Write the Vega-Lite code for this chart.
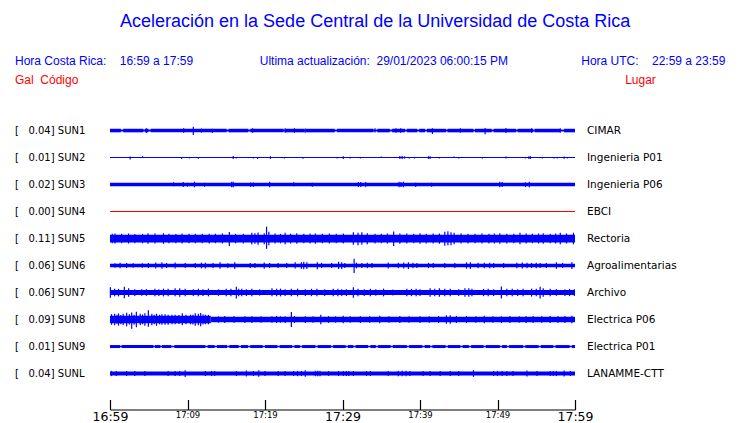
{
"$schema": "https://vega.github.io/schema/vega-lite/v6.json",
"background": "white",
"padding": {"left": 15, "right": 5, "top": 13, "bottom": 0},
"config": {"view": {"stroke": null}},
"title": {
  "text": "\u200b\u00a0\u00a0\u00a0\u00a0\u00a0\u00a0\u00a0\u00a0\u00a0\u00a0\u00a0\u00a0\u00a0\u00a0\u00a0\u00a0\u00a0\u00a0\u00a0\u00a0\u00a0Aceleración en la Sede Central de la Universidad de Costa Rica",
  "subtitle": "Hora Costa Rica:\u00a0\u00a0\u00a0\u00a016:59 a 17:59\u00a0\u00a0\u00a0\u00a0\u00a0\u00a0\u00a0\u00a0\u00a0\u00a0\u00a0\u00a0\u00a0\u00a0\u00a0\u00a0\u00a0\u00a0\u00a0\u00a0Ultima actualización:\u00a0\u00a029/01/2023 06:00:15 PM\u00a0\u00a0\u00a0\u00a0\u00a0\u00a0\u00a0\u00a0\u00a0\u00a0\u00a0\u00a0\u00a0\u00a0\u00a0\u00a0\u00a0\u00a0\u00a0\u00a0\u00a0\u00a0Hora UTC:\u00a0\u00a0\u00a0\u00a022:59 a 23:59",
  "anchor": "start", "frame": "bounds",
  "font": "Liberation Sans", "fontSize": 18, "fontWeight": "normal", "color": "#0000ff",
  "subtitleFont": "Liberation Sans", "subtitleFontSize": 12, "subtitleColor": "#0000ff",
  "subtitlePadding": 25, "offset": 7
},
"data": {"values": [
{"s":"SUN1","k":"l","lab":"[\u00a0\u00a0\u00a00.04] SUN1","lug":"CIMAR"},
{"s":"SUN2","k":"l","lab":"[\u00a0\u00a0\u00a00.01] SUN2","lug":"Ingenieria P01"},
{"s":"SUN3","k":"l","lab":"[\u00a0\u00a0\u00a00.02] SUN3","lug":"Ingenieria P06"},
{"s":"SUN4","k":"l","lab":"[\u00a0\u00a0\u00a00.00] SUN4","lug":"EBCI"},
{"s":"SUN5","k":"l","lab":"[\u00a0\u00a0\u00a00.11] SUN5","lug":"Rectoria"},
{"s":"SUN6","k":"l","lab":"[\u00a0\u00a0\u00a00.06] SUN6","lug":"Agroalimentarias"},
{"s":"SUN7","k":"l","lab":"[\u00a0\u00a0\u00a00.06] SUN7","lug":"Archivo"},
{"s":"SUN8","k":"l","lab":"[\u00a0\u00a0\u00a00.09] SUN8","lug":"Electrica P06"},
{"s":"SUN9","k":"l","lab":"[\u00a0\u00a0\u00a00.01] SUN9","lug":"Electrica P01"},
{"s":"SUNL","k":"l","lab":"[\u00a0\u00a0\u00a00.04] SUNL","lug":"LANAMME-CTT"},

{"s":"SUN1","k":"b","t":0,"t2":60,"lo":-1,"hi":1},
{"s":"SUN1","k":"b","t":0,"t2":1.4,"lo":-1.9,"hi":1.8},
{"s":"SUN1","k":"b","t":1.7,"t2":4.3,"lo":-1.9,"hi":1.8},
{"s":"SUN1","k":"b","t":4.5,"t2":4.95,"lo":-1.9,"hi":1.8},
{"s":"SUN1","k":"b","t":5.25,"t2":15.05,"lo":-1.9,"hi":1.8},
{"s":"SUN1","k":"b","t":15.3,"t2":17.85,"lo":-1.9,"hi":1.8},
{"s":"SUN1","k":"b","t":18.1,"t2":22.4,"lo":-1.9,"hi":1.8},
{"s":"SUN1","k":"b","t":22.6,"t2":25.1,"lo":-1.9,"hi":1.8},
{"s":"SUN1","k":"b","t":25.3,"t2":29,"lo":-1.9,"hi":1.8},
{"s":"SUN1","k":"b","t":29.3,"t2":34,"lo":-1.9,"hi":1.8},
{"s":"SUN1","k":"b","t":34.5,"t2":36.1,"lo":-1.9,"hi":1.8},
{"s":"SUN1","k":"b","t":36.4,"t2":38.05,"lo":-1.9,"hi":1.8},
{"s":"SUN1","k":"b","t":38.3,"t2":39.65,"lo":-1.9,"hi":1.8},
{"s":"SUN1","k":"b","t":39.9,"t2":40.65,"lo":-1.9,"hi":1.8},
{"s":"SUN1","k":"b","t":40.9,"t2":43.35,"lo":-1.9,"hi":1.8},
{"s":"SUN1","k":"b","t":43.55,"t2":46.9,"lo":-1.9,"hi":1.8},
{"s":"SUN1","k":"b","t":47.1,"t2":49.25,"lo":-1.9,"hi":1.8},
{"s":"SUN1","k":"b","t":49.5,"t2":52.4,"lo":-1.9,"hi":1.8},
{"s":"SUN1","k":"b","t":52.6,"t2":54.6,"lo":-1.9,"hi":1.8},
{"s":"SUN1","k":"b","t":54.8,"t2":58.05,"lo":-1.9,"hi":1.8},
{"s":"SUN1","k":"b","t":58.6,"t2":60,"lo":-1.9,"hi":1.8},
{"s":"SUN1","k":"p","t":4.7,"lo":-2.3,"hi":2.3},
{"s":"SUN1","k":"p","t":9.5,"lo":-2.3,"hi":2.3},
{"s":"SUN1","k":"p","t":10.75,"lo":-4.7,"hi":4},
{"s":"SUN1","k":"p","t":11.8,"lo":-2.3,"hi":2},
{"s":"SUN1","k":"p","t":13.2,"lo":-2.7,"hi":1.8},
{"s":"SUN1","k":"p","t":18.4,"lo":-2.3,"hi":2.3},
{"s":"SUN1","k":"p","t":22.6,"lo":-2.3,"hi":2.3},
{"s":"SUN1","k":"p","t":23.8,"lo":-2.3,"hi":2.3},
{"s":"SUN1","k":"p","t":25.2,"lo":-2.3,"hi":2},
{"s":"SUN1","k":"p","t":34.2,"lo":-2,"hi":2.3},
{"s":"SUN1","k":"p","t":36.9,"lo":-2.3,"hi":2.4},
{"s":"SUN1","k":"p","t":37.5,"lo":-2.3,"hi":2.3},
{"s":"SUN1","k":"p","t":41.6,"lo":-3.5,"hi":2.3},
{"s":"SUN1","k":"p","t":45.2,"lo":-2.3,"hi":2.3},
{"s":"SUN1","k":"p","t":48.4,"lo":-4,"hi":2.7},
{"s":"SUN1","k":"p","t":51.1,"lo":-2.7,"hi":2.7},
{"s":"SUN1","k":"p","t":54.4,"lo":-2.4,"hi":2.3},
{"s":"SUN1","k":"p","t":58.1,"lo":-2.3,"hi":2.3},

{"s":"SUN2","k":"b","t":0,"t2":60,"lo":-0.6,"hi":0.6},
{"s":"SUN2","k":"p","t":2.6,"lo":-2,"hi":1},
{"s":"SUN2","k":"p","t":4.2,"lo":-0.6,"hi":1.3},
{"s":"SUN2","k":"p","t":9.25,"lo":-1.5,"hi":0.6},
{"s":"SUN2","k":"p","t":10.25,"lo":-1,"hi":0.6},
{"s":"SUN2","k":"p","t":11.4,"lo":-1.2,"hi":0.6},
{"s":"SUN2","k":"p","t":15.9,"lo":-1.5,"hi":1.5},
{"s":"SUN2","k":"p","t":16.3,"lo":-1,"hi":0.6},
{"s":"SUN2","k":"p","t":18.5,"lo":-1,"hi":0.6},
{"s":"SUN2","k":"p","t":19.05,"lo":-1.5,"hi":0.6},
{"s":"SUN2","k":"p","t":20.7,"lo":-1.5,"hi":1.3},
{"s":"SUN2","k":"p","t":22.5,"lo":-1,"hi":0.6},
{"s":"SUN2","k":"p","t":24.9,"lo":-1.3,"hi":0.6},
{"s":"SUN2","k":"p","t":29.3,"lo":-1,"hi":0.6},
{"s":"SUN2","k":"p","t":30.1,"lo":-1.5,"hi":1.3},
{"s":"SUN2","k":"p","t":31,"lo":-1,"hi":0.6},
{"s":"SUN2","k":"p","t":32.3,"lo":-1,"hi":0.6},
{"s":"SUN2","k":"p","t":35,"lo":-0.6,"hi":1},
{"s":"SUN2","k":"p","t":37.4,"lo":-1.5,"hi":1.5},
{"s":"SUN2","k":"p","t":37.7,"lo":-1.5,"hi":1.5},
{"s":"SUN2","k":"p","t":38,"lo":-1.2,"hi":1.2},
{"s":"SUN2","k":"p","t":38.6,"lo":-1,"hi":0.6},
{"s":"SUN2","k":"p","t":39.3,"lo":-1,"hi":0.6},
{"s":"SUN2","k":"p","t":41.1,"lo":-1.5,"hi":1.3},
{"s":"SUN2","k":"p","t":41.3,"lo":-1.5,"hi":1.3},
{"s":"SUN2","k":"p","t":42.5,"lo":-1,"hi":0.6},
{"s":"SUN2","k":"p","t":44.4,"lo":-0.6,"hi":1},
{"s":"SUN2","k":"p","t":45,"lo":-1,"hi":0.6},
{"s":"SUN2","k":"p","t":48.05,"lo":-1,"hi":0.6},
{"s":"SUN2","k":"p","t":51.1,"lo":-1,"hi":1},
{"s":"SUN2","k":"p","t":53.6,"lo":-1,"hi":0.6},
{"s":"SUN2","k":"p","t":54.05,"lo":-1.5,"hi":1.3},
{"s":"SUN2","k":"p","t":54.25,"lo":-1.5,"hi":1.3},
{"s":"SUN2","k":"p","t":55.8,"lo":-1,"hi":0.6},
{"s":"SUN2","k":"p","t":57.3,"lo":-1,"hi":0.6},
{"s":"SUN2","k":"p","t":57.7,"lo":-1,"hi":0.6},
{"s":"SUN2","k":"p","t":58.6,"lo":-1.3,"hi":1},
{"s":"SUN2","k":"p","t":59,"lo":-1,"hi":0.6},

{"s":"SUN3","k":"b","t":0,"t2":60,"lo":-1.8,"hi":1.8},
{"s":"SUN3","k":"p","t":8.2,"lo":-1.8,"hi":2.3},
{"s":"SUN3","k":"p","t":9.45,"lo":-2.5,"hi":2.5},
{"s":"SUN3","k":"p","t":10,"lo":-2.3,"hi":1.8},
{"s":"SUN3","k":"p","t":10.9,"lo":-2.9,"hi":2.9},
{"s":"SUN3","k":"p","t":12.2,"lo":-2.3,"hi":1.8},
{"s":"SUN3","k":"p","t":15.7,"lo":-2.9,"hi":2.9},
{"s":"SUN3","k":"p","t":15.9,"lo":-2.9,"hi":2.9},
{"s":"SUN3","k":"p","t":18.15,"lo":-2.7,"hi":2},
{"s":"SUN3","k":"p","t":18.5,"lo":-2.7,"hi":2},
{"s":"SUN3","k":"p","t":20.6,"lo":-2.9,"hi":2.9},
{"s":"SUN3","k":"p","t":23.7,"lo":-1.8,"hi":2.3},
{"s":"SUN3","k":"p","t":26.1,"lo":-2.3,"hi":1.8},
{"s":"SUN3","k":"p","t":32.05,"lo":-2.7,"hi":2.7},
{"s":"SUN3","k":"p","t":32.35,"lo":-2.7,"hi":2.7},
{"s":"SUN3","k":"p","t":33,"lo":-2.7,"hi":2.7},
{"s":"SUN3","k":"p","t":37.3,"lo":-2.9,"hi":2.9},
{"s":"SUN3","k":"p","t":37.55,"lo":-2.7,"hi":2.7},
{"s":"SUN3","k":"p","t":37.85,"lo":-2.9,"hi":2.9},
{"s":"SUN3","k":"p","t":39.45,"lo":-2.5,"hi":1.8},
{"s":"SUN3","k":"p","t":41.5,"lo":-2.3,"hi":1.8},
{"s":"SUN3","k":"p","t":50.3,"lo":-2.9,"hi":2.9},
{"s":"SUN3","k":"p","t":50.6,"lo":-2.7,"hi":2.7},
{"s":"SUN3","k":"p","t":53.6,"lo":-2.7,"hi":2.3},
{"s":"SUN3","k":"p","t":54.1,"lo":-2.9,"hi":2.9},

{"s":"SUN4","k":"b","t":0,"t2":60,"lo":-0.5,"hi":0.5},

{"s":"SUN5","k":"b","t":0,"t2":60,"lo":-4.1,"hi":3.9},
{"s":"SUN5","k":"p","t":0.3,"lo":-5,"hi":4.8},
{"s":"SUN5","k":"p","t":0.65,"lo":-5.2,"hi":5.2},
{"s":"SUN5","k":"p","t":1.5,"lo":-4.8,"hi":4.8},
{"s":"SUN5","k":"p","t":2.4,"lo":-5.2,"hi":5.2},
{"s":"SUN5","k":"p","t":3.2,"lo":-4.8,"hi":4.6},
{"s":"SUN5","k":"p","t":4.2,"lo":-5,"hi":4.8},
{"s":"SUN5","k":"p","t":4.9,"lo":-5.5,"hi":5.5},
{"s":"SUN5","k":"p","t":5.8,"lo":-5.2,"hi":5.2},
{"s":"SUN5","k":"p","t":6.9,"lo":-5.5,"hi":5.5},
{"s":"SUN5","k":"p","t":7.6,"lo":-5,"hi":4.8},
{"s":"SUN5","k":"p","t":8.5,"lo":-4.8,"hi":4.6},
{"s":"SUN5","k":"p","t":9.3,"lo":-5.2,"hi":5.2},
{"s":"SUN5","k":"p","t":10.2,"lo":-5,"hi":4.8},
{"s":"SUN5","k":"p","t":11,"lo":-4.8,"hi":4.8},
{"s":"SUN5","k":"p","t":11.9,"lo":-5,"hi":4.9},
{"s":"SUN5","k":"p","t":12.8,"lo":-5.2,"hi":4.8},
{"s":"SUN5","k":"p","t":13.6,"lo":-4.8,"hi":4.8},
{"s":"SUN5","k":"p","t":14.5,"lo":-5.2,"hi":5.2},
{"s":"SUN5","k":"p","t":15.4,"lo":-7.7,"hi":6.7},
{"s":"SUN5","k":"p","t":16.2,"lo":-5,"hi":4.8},
{"s":"SUN5","k":"p","t":17.2,"lo":-5.2,"hi":5},
{"s":"SUN5","k":"p","t":18.3,"lo":-6.3,"hi":6},
{"s":"SUN5","k":"p","t":18.7,"lo":-5.5,"hi":5.5},
{"s":"SUN5","k":"p","t":19.1,"lo":-6.5,"hi":6.3},
{"s":"SUN5","k":"p","t":19.9,"lo":-6,"hi":5.5},
{"s":"SUN5","k":"p","t":20.2,"lo":-10.7,"hi":12.3},
{"s":"SUN5","k":"p","t":20.5,"lo":-7,"hi":7},
{"s":"SUN5","k":"p","t":21.3,"lo":-5.2,"hi":5.2},
{"s":"SUN5","k":"p","t":22,"lo":-5,"hi":4.8},
{"s":"SUN5","k":"p","t":22.6,"lo":-6,"hi":6},
{"s":"SUN5","k":"p","t":23.3,"lo":-5.2,"hi":5},
{"s":"SUN5","k":"p","t":24.1,"lo":-5.5,"hi":5.5},
{"s":"SUN5","k":"p","t":25,"lo":-5,"hi":4.8},
{"s":"SUN5","k":"p","t":25.8,"lo":-5.2,"hi":5.2},
{"s":"SUN5","k":"p","t":26.5,"lo":-5.5,"hi":5.2},
{"s":"SUN5","k":"p","t":27.4,"lo":-5,"hi":4.8},
{"s":"SUN5","k":"p","t":28.3,"lo":-5.2,"hi":5.2},
{"s":"SUN5","k":"p","t":29.2,"lo":-5,"hi":5},
{"s":"SUN5","k":"p","t":30.1,"lo":-5.2,"hi":5.2},
{"s":"SUN5","k":"p","t":31.4,"lo":-6.5,"hi":6.5},
{"s":"SUN5","k":"p","t":32,"lo":-7,"hi":6},
{"s":"SUN5","k":"p","t":32.5,"lo":-6.5,"hi":6.5},
{"s":"SUN5","k":"p","t":33.2,"lo":-6,"hi":5.5},
{"s":"SUN5","k":"p","t":34.2,"lo":-5.2,"hi":5},
{"s":"SUN5","k":"p","t":35,"lo":-5,"hi":4.8},
{"s":"SUN5","k":"p","t":35.8,"lo":-5.2,"hi":5.2},
{"s":"SUN5","k":"p","t":36.6,"lo":-7.7,"hi":7.3},
{"s":"SUN5","k":"p","t":37.4,"lo":-5.5,"hi":5.2},
{"s":"SUN5","k":"p","t":38.3,"lo":-5.2,"hi":5.2},
{"s":"SUN5","k":"p","t":39.2,"lo":-5,"hi":4.8},
{"s":"SUN5","k":"p","t":40,"lo":-5.5,"hi":5.5},
{"s":"SUN5","k":"p","t":40.8,"lo":-5.2,"hi":5},
{"s":"SUN5","k":"p","t":41.7,"lo":-5.2,"hi":5.2},
{"s":"SUN5","k":"p","t":42.5,"lo":-5.5,"hi":5.2},
{"s":"SUN5","k":"p","t":43.2,"lo":-7.5,"hi":7},
{"s":"SUN5","k":"p","t":43.6,"lo":-7,"hi":7.5},
{"s":"SUN5","k":"p","t":44,"lo":-7,"hi":6.5},
{"s":"SUN5","k":"p","t":44.4,"lo":-6,"hi":6},
{"s":"SUN5","k":"p","t":45.3,"lo":-5.2,"hi":5.2},
{"s":"SUN5","k":"p","t":46.2,"lo":-5.2,"hi":5},
{"s":"SUN5","k":"p","t":47.1,"lo":-5,"hi":4.8},
{"s":"SUN5","k":"p","t":48,"lo":-5.2,"hi":5.2},
{"s":"SUN5","k":"p","t":48.9,"lo":-5.2,"hi":4.8},
{"s":"SUN5","k":"p","t":49.6,"lo":-5.2,"hi":5.2},
{"s":"SUN5","k":"p","t":50.3,"lo":-5.5,"hi":5.5},
{"s":"SUN5","k":"p","t":51.2,"lo":-5.2,"hi":5},
{"s":"SUN5","k":"p","t":52.1,"lo":-5,"hi":4.8},
{"s":"SUN5","k":"p","t":52.9,"lo":-6,"hi":6},
{"s":"SUN5","k":"p","t":53.7,"lo":-5.2,"hi":5.2},
{"s":"SUN5","k":"p","t":54.5,"lo":-5,"hi":4.8},
{"s":"SUN5","k":"p","t":55.3,"lo":-5.2,"hi":5.2},
{"s":"SUN5","k":"p","t":55.9,"lo":-5.5,"hi":5.5},
{"s":"SUN5","k":"p","t":56.8,"lo":-5,"hi":5},
{"s":"SUN5","k":"p","t":57.5,"lo":-5.2,"hi":5.2},
{"s":"SUN5","k":"p","t":58.1,"lo":-6,"hi":6},
{"s":"SUN5","k":"p","t":58.9,"lo":-5.2,"hi":5.2},
{"s":"SUN5","k":"p","t":59.8,"lo":-6,"hi":6},

{"s":"SUN6","k":"b","t":0,"t2":60,"lo":-1.8,"hi":1.8},
{"s":"SUN6","k":"p","t":0.65,"lo":-2.3,"hi":2.3},
{"s":"SUN6","k":"p","t":1.3,"lo":-2.9,"hi":2.9},
{"s":"SUN6","k":"p","t":2.15,"lo":-2.7,"hi":2.7},
{"s":"SUN6","k":"p","t":3,"lo":-2.3,"hi":2.3},
{"s":"SUN6","k":"p","t":4.17,"lo":-2.4,"hi":2.3},
{"s":"SUN6","k":"p","t":4.95,"lo":-2.7,"hi":2.7},
{"s":"SUN6","k":"p","t":5.9,"lo":-3,"hi":3},
{"s":"SUN6","k":"p","t":6.7,"lo":-3.3,"hi":3.3},
{"s":"SUN6","k":"p","t":7.3,"lo":-2.7,"hi":2.7},
{"s":"SUN6","k":"p","t":8.4,"lo":-3,"hi":3},
{"s":"SUN6","k":"p","t":9.7,"lo":-2.7,"hi":2.5},
{"s":"SUN6","k":"p","t":11,"lo":-2.7,"hi":2.7},
{"s":"SUN6","k":"p","t":11.8,"lo":-3,"hi":3},
{"s":"SUN6","k":"p","t":12.3,"lo":-3,"hi":2.8},
{"s":"SUN6","k":"p","t":13.3,"lo":-2.5,"hi":2.5},
{"s":"SUN6","k":"p","t":14.2,"lo":-3.3,"hi":3.3},
{"s":"SUN6","k":"p","t":15.2,"lo":-2.5,"hi":2.3},
{"s":"SUN6","k":"p","t":16.1,"lo":-3.5,"hi":3.3},
{"s":"SUN6","k":"p","t":18.1,"lo":-2.7,"hi":2.7},
{"s":"SUN6","k":"p","t":18.7,"lo":-2.7,"hi":2.5},
{"s":"SUN6","k":"p","t":19.9,"lo":-3.3,"hi":3},
{"s":"SUN6","k":"p","t":20.6,"lo":-2.7,"hi":2.7},
{"s":"SUN6","k":"p","t":21.7,"lo":-2.5,"hi":2.5},
{"s":"SUN6","k":"p","t":22.8,"lo":-2.7,"hi":2.7},
{"s":"SUN6","k":"p","t":23.9,"lo":-3,"hi":3.3},
{"s":"SUN6","k":"p","t":24.7,"lo":-3.5,"hi":3.5},
{"s":"SUN6","k":"p","t":25,"lo":-4,"hi":4},
{"s":"SUN6","k":"p","t":25.4,"lo":-3.5,"hi":3.5},
{"s":"SUN6","k":"p","t":26.75,"lo":-4,"hi":3.5},
{"s":"SUN6","k":"p","t":27.3,"lo":-2.7,"hi":2.7},
{"s":"SUN6","k":"p","t":28.6,"lo":-2.7,"hi":2.7},
{"s":"SUN6","k":"p","t":29.5,"lo":-3.5,"hi":4},
{"s":"SUN6","k":"p","t":29.9,"lo":-3.5,"hi":3.5},
{"s":"SUN6","k":"p","t":30.3,"lo":-2.7,"hi":2.7},
{"s":"SUN6","k":"p","t":31.5,"lo":-7.7,"hi":7},
{"s":"SUN6","k":"p","t":31.8,"lo":-3,"hi":3},
{"s":"SUN6","k":"p","t":32.5,"lo":-2.7,"hi":2.7},
{"s":"SUN6","k":"p","t":33.2,"lo":-2.9,"hi":2.9},
{"s":"SUN6","k":"p","t":33.8,"lo":-2.7,"hi":2.7},
{"s":"SUN6","k":"p","t":35.9,"lo":-3,"hi":3},
{"s":"SUN6","k":"p","t":37.2,"lo":-2.8,"hi":2.8},
{"s":"SUN6","k":"p","t":37.9,"lo":-3,"hi":3},
{"s":"SUN6","k":"p","t":38.5,"lo":-3.5,"hi":3.3},
{"s":"SUN6","k":"p","t":39.1,"lo":-2.9,"hi":2.9},
{"s":"SUN6","k":"p","t":39.6,"lo":-2.7,"hi":2.7},
{"s":"SUN6","k":"p","t":41.1,"lo":-2.8,"hi":2.8},
{"s":"SUN6","k":"p","t":41.7,"lo":-2.7,"hi":2.7},
{"s":"SUN6","k":"p","t":43.2,"lo":-2.7,"hi":2.5},
{"s":"SUN6","k":"p","t":44.5,"lo":-2.7,"hi":2.7},
{"s":"SUN6","k":"p","t":46,"lo":-3.3,"hi":3.3},
{"s":"SUN6","k":"p","t":46.5,"lo":-3.5,"hi":3.5},
{"s":"SUN6","k":"p","t":47.5,"lo":-2.8,"hi":2.8},
{"s":"SUN6","k":"p","t":48.3,"lo":-2.9,"hi":2.9},
{"s":"SUN6","k":"p","t":49,"lo":-2.8,"hi":2.8},
{"s":"SUN6","k":"p","t":49.5,"lo":-2.7,"hi":2.7},
{"s":"SUN6","k":"p","t":50.8,"lo":-2.7,"hi":2.7},
{"s":"SUN6","k":"p","t":52.5,"lo":-2.9,"hi":2.9},
{"s":"SUN6","k":"p","t":53.2,"lo":-3,"hi":3},
{"s":"SUN6","k":"p","t":53.8,"lo":-2.9,"hi":2.9},
{"s":"SUN6","k":"p","t":54.4,"lo":-2.7,"hi":2.7},
{"s":"SUN6","k":"p","t":55,"lo":-2.9,"hi":2.9},
{"s":"SUN6","k":"p","t":55.5,"lo":-2.7,"hi":2.7},
{"s":"SUN6","k":"p","t":56.3,"lo":-2.7,"hi":2.7},
{"s":"SUN6","k":"p","t":57.6,"lo":-3.5,"hi":3.3},
{"s":"SUN6","k":"p","t":58.4,"lo":-2.7,"hi":2.7},
{"s":"SUN6","k":"p","t":59.6,"lo":-3.5,"hi":3.5},

{"s":"SUN7","k":"b","t":0,"t2":60,"lo":-2.6,"hi":2.6},
{"s":"SUN7","k":"p","t":0.05,"lo":-5.5,"hi":5.5},
{"s":"SUN7","k":"p","t":0.6,"lo":-4,"hi":4},
{"s":"SUN7","k":"p","t":1.1,"lo":-4,"hi":3.8},
{"s":"SUN7","k":"p","t":1.85,"lo":-6,"hi":6},
{"s":"SUN7","k":"p","t":2.4,"lo":-4.5,"hi":4.5},
{"s":"SUN7","k":"p","t":3.2,"lo":-3.5,"hi":3.5},
{"s":"SUN7","k":"p","t":4.1,"lo":-3.3,"hi":3.3},
{"s":"SUN7","k":"p","t":4.7,"lo":-3.5,"hi":3.5},
{"s":"SUN7","k":"p","t":5.8,"lo":-4,"hi":4},
{"s":"SUN7","k":"p","t":6.3,"lo":-3.5,"hi":3.5},
{"s":"SUN7","k":"p","t":6.9,"lo":-4,"hi":4},
{"s":"SUN7","k":"p","t":7.5,"lo":-3.8,"hi":3.8},
{"s":"SUN7","k":"p","t":8.4,"lo":-4,"hi":4.3},
{"s":"SUN7","k":"p","t":9,"lo":-4.3,"hi":4.3},
{"s":"SUN7","k":"p","t":9.7,"lo":-4,"hi":4},
{"s":"SUN7","k":"p","t":10.75,"lo":-3.5,"hi":3.5},
{"s":"SUN7","k":"p","t":11.4,"lo":-4,"hi":4},
{"s":"SUN7","k":"p","t":12,"lo":-3.5,"hi":3.5},
{"s":"SUN7","k":"p","t":12.7,"lo":-4,"hi":4},
{"s":"SUN7","k":"p","t":14,"lo":-3.5,"hi":3.3},
{"s":"SUN7","k":"p","t":15,"lo":-4,"hi":4},
{"s":"SUN7","k":"p","t":15.6,"lo":-3.8,"hi":3.8},
{"s":"SUN7","k":"p","t":16.3,"lo":-6.3,"hi":6},
{"s":"SUN7","k":"p","t":16.6,"lo":-4,"hi":4},
{"s":"SUN7","k":"p","t":17,"lo":-3.8,"hi":3.8},
{"s":"SUN7","k":"p","t":17.6,"lo":-3.5,"hi":3.5},
{"s":"SUN7","k":"p","t":18.3,"lo":-4,"hi":4},
{"s":"SUN7","k":"p","t":19.3,"lo":-3.2,"hi":3.2},
{"s":"SUN7","k":"p","t":20.9,"lo":-4,"hi":4.3},
{"s":"SUN7","k":"p","t":21.5,"lo":-3.8,"hi":3.8},
{"s":"SUN7","k":"p","t":22,"lo":-4,"hi":4},
{"s":"SUN7","k":"p","t":22.6,"lo":-3.5,"hi":3.5},
{"s":"SUN7","k":"p","t":23.4,"lo":-3.8,"hi":3.8},
{"s":"SUN7","k":"p","t":24.2,"lo":-4,"hi":4},
{"s":"SUN7","k":"p","t":25.2,"lo":-3.5,"hi":3.5},
{"s":"SUN7","k":"p","t":26,"lo":-3.8,"hi":3.8},
{"s":"SUN7","k":"p","t":26.7,"lo":-4,"hi":4},
{"s":"SUN7","k":"p","t":27.7,"lo":-3.5,"hi":3.5},
{"s":"SUN7","k":"p","t":28.8,"lo":-4,"hi":4},
{"s":"SUN7","k":"p","t":29.4,"lo":-3.8,"hi":3.8},
{"s":"SUN7","k":"p","t":29.9,"lo":-3.5,"hi":3.5},
{"s":"SUN7","k":"p","t":30.5,"lo":-3.5,"hi":3.5},
{"s":"SUN7","k":"p","t":31.4,"lo":-5.5,"hi":5.5},
{"s":"SUN7","k":"p","t":32,"lo":-3.8,"hi":3.8},
{"s":"SUN7","k":"p","t":32.8,"lo":-3.5,"hi":3.5},
{"s":"SUN7","k":"p","t":33.6,"lo":-3.8,"hi":3.8},
{"s":"SUN7","k":"p","t":34.3,"lo":-3.3,"hi":3.3},
{"s":"SUN7","k":"p","t":35.3,"lo":-4,"hi":4},
{"s":"SUN7","k":"p","t":36.5,"lo":-3.2,"hi":3.2},
{"s":"SUN7","k":"p","t":38.3,"lo":-4,"hi":4},
{"s":"SUN7","k":"p","t":38.9,"lo":-3.8,"hi":3.8},
{"s":"SUN7","k":"p","t":39.5,"lo":-4,"hi":4},
{"s":"SUN7","k":"p","t":40,"lo":-3.5,"hi":3.5},
{"s":"SUN7","k":"p","t":41.3,"lo":-4.3,"hi":4.3},
{"s":"SUN7","k":"p","t":41.9,"lo":-4,"hi":4},
{"s":"SUN7","k":"p","t":42.5,"lo":-4.3,"hi":4.3},
{"s":"SUN7","k":"p","t":43.2,"lo":-4,"hi":4},
{"s":"SUN7","k":"p","t":43.9,"lo":-3.8,"hi":3.8},
{"s":"SUN7","k":"p","t":45,"lo":-3.5,"hi":3.5},
{"s":"SUN7","k":"p","t":45.8,"lo":-4.3,"hi":4.3},
{"s":"SUN7","k":"p","t":46.3,"lo":-4.5,"hi":4.5},
{"s":"SUN7","k":"p","t":46.7,"lo":-4,"hi":4},
{"s":"SUN7","k":"p","t":48.2,"lo":-3.8,"hi":3.8},
{"s":"SUN7","k":"p","t":48.8,"lo":-4,"hi":4},
{"s":"SUN7","k":"p","t":49.5,"lo":-3.5,"hi":3.5},
{"s":"SUN7","k":"p","t":50.5,"lo":-6.2,"hi":6.2},
{"s":"SUN7","k":"p","t":51.2,"lo":-3.8,"hi":3.8},
{"s":"SUN7","k":"p","t":51.9,"lo":-4,"hi":4},
{"s":"SUN7","k":"p","t":52.6,"lo":-3.5,"hi":3.5},
{"s":"SUN7","k":"p","t":53.3,"lo":-3.8,"hi":3.8},
{"s":"SUN7","k":"p","t":54.4,"lo":-4.3,"hi":4},
{"s":"SUN7","k":"p","t":55,"lo":-4,"hi":4},
{"s":"SUN7","k":"p","t":55.5,"lo":-6.3,"hi":6},
{"s":"SUN7","k":"p","t":55.9,"lo":-4.3,"hi":4.3},
{"s":"SUN7","k":"p","t":56.8,"lo":-3.8,"hi":3.8},
{"s":"SUN7","k":"p","t":57.6,"lo":-3.5,"hi":3.5},
{"s":"SUN7","k":"p","t":58.7,"lo":-3.5,"hi":3.5},
{"s":"SUN7","k":"p","t":59.3,"lo":-3.8,"hi":3.8},
{"s":"SUN7","k":"p","t":59.9,"lo":-3.5,"hi":3.5},

{"s":"SUN8","k":"b","t":0,"t2":13,"lo":-3.8,"hi":3.8},
{"s":"SUN8","k":"b","t":13,"t2":60,"lo":-2.8,"hi":2.8},
{"s":"SUN8","k":"p","t":0.2,"lo":-5.5,"hi":5.5},
{"s":"SUN8","k":"p","t":0.6,"lo":-6,"hi":6},
{"s":"SUN8","k":"p","t":0.9,"lo":-4.5,"hi":4.8},
{"s":"SUN8","k":"p","t":1.1,"lo":-6.3,"hi":6.3},
{"s":"SUN8","k":"p","t":1.4,"lo":-5,"hi":4.7},
{"s":"SUN8","k":"p","t":1.7,"lo":-5.8,"hi":6},
{"s":"SUN8","k":"p","t":2.15,"lo":-7,"hi":7},
{"s":"SUN8","k":"p","t":2.5,"lo":-5.2,"hi":5.5},
{"s":"SUN8","k":"p","t":2.8,"lo":-9.7,"hi":7.3},
{"s":"SUN8","k":"p","t":3.1,"lo":-5.5,"hi":5},
{"s":"SUN8","k":"p","t":3.4,"lo":-8,"hi":8},
{"s":"SUN8","k":"p","t":3.9,"lo":-6,"hi":6},
{"s":"SUN8","k":"p","t":4.2,"lo":-5,"hi":5.2},
{"s":"SUN8","k":"p","t":4.5,"lo":-6.5,"hi":6.5},
{"s":"SUN8","k":"p","t":4.95,"lo":-7.5,"hi":9.5},
{"s":"SUN8","k":"p","t":5.4,"lo":-6,"hi":6},
{"s":"SUN8","k":"p","t":5.7,"lo":-4.8,"hi":5},
{"s":"SUN8","k":"p","t":6,"lo":-6.5,"hi":6},
{"s":"SUN8","k":"p","t":6.4,"lo":-4.8,"hi":4.8},
{"s":"SUN8","k":"p","t":6.7,"lo":-5.5,"hi":5.5},
{"s":"SUN8","k":"p","t":7.1,"lo":-5.5,"hi":5.5},
{"s":"SUN8","k":"p","t":7.5,"lo":-5.5,"hi":5},
{"s":"SUN8","k":"p","t":8,"lo":-5,"hi":5},
{"s":"SUN8","k":"p","t":8.4,"lo":-5,"hi":4.8},
{"s":"SUN8","k":"p","t":8.9,"lo":-4.6,"hi":4.6},
{"s":"SUN8","k":"p","t":9.33,"lo":-6,"hi":6.5},
{"s":"SUN8","k":"p","t":9.8,"lo":-5,"hi":5},
{"s":"SUN8","k":"p","t":10.4,"lo":-5,"hi":5},
{"s":"SUN8","k":"p","t":10.7,"lo":-5.3,"hi":5},
{"s":"SUN8","k":"p","t":11,"lo":-6.5,"hi":6.5},
{"s":"SUN8","k":"p","t":11.4,"lo":-6,"hi":6},
{"s":"SUN8","k":"p","t":11.7,"lo":-7,"hi":6.7},
{"s":"SUN8","k":"p","t":12,"lo":-5.2,"hi":5.2},
{"s":"SUN8","k":"p","t":12.3,"lo":-5,"hi":5},
{"s":"SUN8","k":"p","t":12.7,"lo":-5,"hi":4.8},
{"s":"SUN8","k":"p","t":14,"lo":-3.3,"hi":3.3},
{"s":"SUN8","k":"p","t":14.8,"lo":-3.7,"hi":3.7},
{"s":"SUN8","k":"p","t":16,"lo":-3.3,"hi":3.3},
{"s":"SUN8","k":"p","t":17.4,"lo":-3.5,"hi":3.5},
{"s":"SUN8","k":"p","t":18.3,"lo":-3.5,"hi":3.5},
{"s":"SUN8","k":"p","t":19.5,"lo":-3.3,"hi":3.3},
{"s":"SUN8","k":"p","t":20.9,"lo":-3.4,"hi":3.4},
{"s":"SUN8","k":"p","t":21.5,"lo":-3.7,"hi":3.7},
{"s":"SUN8","k":"p","t":22,"lo":-3.3,"hi":3.3},
{"s":"SUN8","k":"p","t":22.6,"lo":-3.5,"hi":3.5},
{"s":"SUN8","k":"p","t":23.4,"lo":-7.7,"hi":7.8},
{"s":"SUN8","k":"p","t":23.8,"lo":-3.7,"hi":3.7},
{"s":"SUN8","k":"p","t":25.2,"lo":-3.5,"hi":3.5},
{"s":"SUN8","k":"p","t":26.2,"lo":-3.3,"hi":3.3},
{"s":"SUN8","k":"p","t":27.2,"lo":-5,"hi":5},
{"s":"SUN8","k":"p","t":28.2,"lo":-3.5,"hi":3.5},
{"s":"SUN8","k":"p","t":29.1,"lo":-3.3,"hi":3.3},
{"s":"SUN8","k":"p","t":30.1,"lo":-4,"hi":4},
{"s":"SUN8","k":"p","t":31,"lo":-3.3,"hi":3.3},
{"s":"SUN8","k":"p","t":32.3,"lo":-3.5,"hi":3.5},
{"s":"SUN8","k":"p","t":33.5,"lo":-3.3,"hi":3.3},
{"s":"SUN8","k":"p","t":34.8,"lo":-4,"hi":4},
{"s":"SUN8","k":"p","t":36,"lo":-3.3,"hi":3.3},
{"s":"SUN8","k":"p","t":37.4,"lo":-3.7,"hi":3.7},
{"s":"SUN8","k":"p","t":38.6,"lo":-3.3,"hi":3.3},
{"s":"SUN8","k":"p","t":40,"lo":-3.5,"hi":3.5},
{"s":"SUN8","k":"p","t":41.2,"lo":-3.3,"hi":3.3},
{"s":"SUN8","k":"p","t":42.4,"lo":-3.7,"hi":3.7},
{"s":"SUN8","k":"p","t":43.4,"lo":-4.5,"hi":4.5},
{"s":"SUN8","k":"p","t":43.9,"lo":-4.5,"hi":4.5},
{"s":"SUN8","k":"p","t":44.7,"lo":-3.7,"hi":3.7},
{"s":"SUN8","k":"p","t":46,"lo":-3.5,"hi":3.5},
{"s":"SUN8","k":"p","t":47.2,"lo":-3.3,"hi":3.3},
{"s":"SUN8","k":"p","t":48.3,"lo":-4,"hi":4},
{"s":"SUN8","k":"p","t":49.4,"lo":-3.3,"hi":3.3},
{"s":"SUN8","k":"p","t":50.5,"lo":-3.5,"hi":3.5},
{"s":"SUN8","k":"p","t":51.6,"lo":-3.7,"hi":3.7},
{"s":"SUN8","k":"p","t":52.8,"lo":-3.3,"hi":3.3},
{"s":"SUN8","k":"p","t":53.7,"lo":-3.5,"hi":3.5},
{"s":"SUN8","k":"p","t":54.6,"lo":-3.7,"hi":3.7},
{"s":"SUN8","k":"p","t":55.7,"lo":-3.3,"hi":3.3},
{"s":"SUN8","k":"p","t":56.8,"lo":-3.7,"hi":3.7},
{"s":"SUN8","k":"p","t":57.8,"lo":-3.3,"hi":3.3},
{"s":"SUN8","k":"p","t":58.7,"lo":-3.7,"hi":3.7},
{"s":"SUN8","k":"p","t":59.6,"lo":-4,"hi":4},

{"s":"SUN9","k":"b","t":0,"t2":60,"lo":-0.8,"hi":0.8},
{"s":"SUN9","k":"b","t":0,"t2":1.3,"lo":-1.6,"hi":1.5},
{"s":"SUN9","k":"b","t":1.5,"t2":5.6,"lo":-1.6,"hi":1.5},
{"s":"SUN9","k":"b","t":5.8,"t2":6.5,"lo":-1.6,"hi":1.5},
{"s":"SUN9","k":"b","t":6.7,"t2":7.9,"lo":-1.6,"hi":1.5},
{"s":"SUN9","k":"b","t":8.3,"t2":12.3,"lo":-1.6,"hi":1.5},
{"s":"SUN9","k":"b","t":12.6,"t2":13.5,"lo":-1.6,"hi":1.5},
{"s":"SUN9","k":"b","t":13.8,"t2":15.1,"lo":-1.6,"hi":1.5},
{"s":"SUN9","k":"b","t":15.4,"t2":16.6,"lo":-1.6,"hi":1.5},
{"s":"SUN9","k":"b","t":16.9,"t2":17.8,"lo":-1.6,"hi":1.5},
{"s":"SUN9","k":"b","t":18.1,"t2":19.7,"lo":-1.6,"hi":1.5},
{"s":"SUN9","k":"b","t":20,"t2":21.6,"lo":-1.6,"hi":1.5},
{"s":"SUN9","k":"b","t":21.9,"t2":23.5,"lo":-1.6,"hi":1.5},
{"s":"SUN9","k":"b","t":23.8,"t2":24.5,"lo":-1.6,"hi":1.5},
{"s":"SUN9","k":"b","t":24.8,"t2":26.5,"lo":-1.6,"hi":1.5},
{"s":"SUN9","k":"b","t":26.8,"t2":28.5,"lo":-1.6,"hi":1.5},
{"s":"SUN9","k":"b","t":28.8,"t2":30.4,"lo":-1.6,"hi":1.5},
{"s":"SUN9","k":"b","t":30.7,"t2":31.4,"lo":-1.6,"hi":1.5},
{"s":"SUN9","k":"b","t":31.7,"t2":33.3,"lo":-1.6,"hi":1.5},
{"s":"SUN9","k":"b","t":33.6,"t2":34.3,"lo":-1.6,"hi":1.5},
{"s":"SUN9","k":"b","t":34.6,"t2":36.2,"lo":-1.6,"hi":1.5},
{"s":"SUN9","k":"b","t":36.5,"t2":38.3,"lo":-1.6,"hi":1.5},
{"s":"SUN9","k":"b","t":38.6,"t2":40.3,"lo":-1.6,"hi":1.5},
{"s":"SUN9","k":"b","t":40.6,"t2":41.3,"lo":-1.6,"hi":1.5},
{"s":"SUN9","k":"b","t":41.6,"t2":43.3,"lo":-1.6,"hi":1.5},
{"s":"SUN9","k":"b","t":43.6,"t2":45.2,"lo":-1.6,"hi":1.5},
{"s":"SUN9","k":"b","t":45.5,"t2":46.3,"lo":-1.6,"hi":1.5},
{"s":"SUN9","k":"b","t":46.6,"t2":48.2,"lo":-1.6,"hi":1.5},
{"s":"SUN9","k":"b","t":48.5,"t2":50.3,"lo":-1.6,"hi":1.5},
{"s":"SUN9","k":"b","t":50.6,"t2":51.2,"lo":-1.6,"hi":1.5},
{"s":"SUN9","k":"b","t":51.5,"t2":53.3,"lo":-1.6,"hi":1.5},
{"s":"SUN9","k":"b","t":53.6,"t2":55.3,"lo":-1.6,"hi":1.5},
{"s":"SUN9","k":"b","t":55.6,"t2":57.2,"lo":-1.6,"hi":1.5},
{"s":"SUN9","k":"b","t":57.5,"t2":59.3,"lo":-1.6,"hi":1.5},
{"s":"SUN9","k":"b","t":59.6,"t2":60,"lo":-1.6,"hi":1.5},

{"s":"SUNL","k":"b","t":0,"t2":60,"lo":-2,"hi":2},
{"s":"SUNL","k":"p","t":0.2,"lo":-2.7,"hi":2.7},
{"s":"SUNL","k":"p","t":0.8,"lo":-2.5,"hi":2.5},
{"s":"SUNL","k":"p","t":2.15,"lo":-2.7,"hi":2.7},
{"s":"SUNL","k":"p","t":3.2,"lo":-2.5,"hi":2.5},
{"s":"SUNL","k":"p","t":4.5,"lo":-2.7,"hi":2.7},
{"s":"SUNL","k":"p","t":7.5,"lo":-2.5,"hi":2.5},
{"s":"SUNL","k":"p","t":8.4,"lo":-2.7,"hi":2.7},
{"s":"SUNL","k":"p","t":9,"lo":-2.7,"hi":2.7},
{"s":"SUNL","k":"p","t":9.7,"lo":-3.5,"hi":3.5},
{"s":"SUNL","k":"p","t":12.3,"lo":-2.7,"hi":2.7},
{"s":"SUNL","k":"p","t":13.1,"lo":-2.7,"hi":2.7},
{"s":"SUNL","k":"p","t":13.5,"lo":-2.5,"hi":2.5},
{"s":"SUNL","k":"p","t":16.3,"lo":-2.7,"hi":2.7},
{"s":"SUNL","k":"p","t":17.6,"lo":-3,"hi":3},
{"s":"SUNL","k":"p","t":18.5,"lo":-2.7,"hi":2.7},
{"s":"SUNL","k":"p","t":19.2,"lo":-3.3,"hi":3.3},
{"s":"SUNL","k":"p","t":20,"lo":-2.7,"hi":2.7},
{"s":"SUNL","k":"p","t":21.7,"lo":-2.5,"hi":2.5},
{"s":"SUNL","k":"p","t":22.6,"lo":-2.7,"hi":2.7},
{"s":"SUNL","k":"p","t":23.7,"lo":-2.7,"hi":2.7},
{"s":"SUNL","k":"p","t":24.2,"lo":-2.8,"hi":2.8},
{"s":"SUNL","k":"p","t":24.7,"lo":-2.7,"hi":2.7},
{"s":"SUNL","k":"p","t":25.2,"lo":-3.3,"hi":3.3},
{"s":"SUNL","k":"p","t":26.5,"lo":-2.8,"hi":2.8},
{"s":"SUNL","k":"p","t":26.8,"lo":-2.8,"hi":2.8},
{"s":"SUNL","k":"p","t":27.1,"lo":-2.8,"hi":2.8},
{"s":"SUNL","k":"p","t":28.2,"lo":-2.5,"hi":2.5},
{"s":"SUNL","k":"p","t":29.5,"lo":-2.5,"hi":2.5},
{"s":"SUNL","k":"p","t":30.1,"lo":-2.7,"hi":2.7},
{"s":"SUNL","k":"p","t":30.5,"lo":-2.7,"hi":2.7},
{"s":"SUNL","k":"p","t":30.8,"lo":-2.7,"hi":2.7},
{"s":"SUNL","k":"p","t":31.4,"lo":-2.7,"hi":2.7},
{"s":"SUNL","k":"p","t":33.1,"lo":-2.5,"hi":2.5},
{"s":"SUNL","k":"p","t":33.6,"lo":-2.5,"hi":2.5},
{"s":"SUNL","k":"p","t":35.9,"lo":-2.7,"hi":2.7},
{"s":"SUNL","k":"p","t":37.2,"lo":-2.8,"hi":2.8},
{"s":"SUNL","k":"p","t":37.7,"lo":-2.8,"hi":2.8},
{"s":"SUNL","k":"p","t":38.2,"lo":-2.8,"hi":2.8},
{"s":"SUNL","k":"p","t":38.7,"lo":-2.7,"hi":2.7},
{"s":"SUNL","k":"p","t":40.4,"lo":-2.5,"hi":2.5},
{"s":"SUNL","k":"p","t":41.3,"lo":-2.7,"hi":2.7},
{"s":"SUNL","k":"p","t":42.6,"lo":-2.5,"hi":2.5},
{"s":"SUNL","k":"p","t":43.9,"lo":-2.7,"hi":2.7},
{"s":"SUNL","k":"p","t":45,"lo":-2.5,"hi":2.5},
{"s":"SUNL","k":"p","t":46.9,"lo":-3.5,"hi":3.5},
{"s":"SUNL","k":"p","t":49.5,"lo":-2.7,"hi":2.7},
{"s":"SUNL","k":"p","t":50,"lo":-2.7,"hi":2.7},
{"s":"SUNL","k":"p","t":50.6,"lo":-2.7,"hi":2.7},
{"s":"SUNL","k":"p","t":51.2,"lo":-2.7,"hi":2.7},
{"s":"SUNL","k":"p","t":52,"lo":-2.5,"hi":2.5},
{"s":"SUNL","k":"p","t":53.8,"lo":-3,"hi":3},
{"s":"SUNL","k":"p","t":55.1,"lo":-2.5,"hi":2.5},
{"s":"SUNL","k":"p","t":56.8,"lo":-2.7,"hi":2.7},
{"s":"SUNL","k":"p","t":57.2,"lo":-2.7,"hi":2.7},
{"s":"SUNL","k":"p","t":57.6,"lo":-2.7,"hi":2.7},
{"s":"SUNL","k":"p","t":58.6,"lo":-3,"hi":3},
{"s":"SUNL","k":"p","t":59.4,"lo":-2.7,"hi":2.7}
]},
"vconcat": [
{
  "title": {
    "text": "Gal\u00a0\u00a0Código\u00a0\u00a0\u00a0\u00a0\u00a0\u00a0\u00a0\u00a0\u00a0\u00a0\u00a0\u00a0\u00a0\u00a0\u00a0\u00a0\u00a0\u00a0\u00a0\u00a0\u00a0\u00a0\u00a0\u00a0\u00a0\u00a0\u00a0\u00a0\u00a0\u00a0\u00a0\u00a0\u00a0\u00a0\u00a0\u00a0\u00a0\u00a0\u00a0\u00a0\u00a0\u00a0\u00a0\u00a0\u00a0\u00a0\u00a0\u00a0\u00a0\u00a0\u00a0\u00a0\u00a0\u00a0\u00a0\u00a0\u00a0\u00a0\u00a0\u00a0\u00a0\u00a0\u00a0\u00a0\u00a0\u00a0\u00a0\u00a0\u00a0\u00a0\u00a0\u00a0\u00a0\u00a0\u00a0\u00a0\u00a0\u00a0\u00a0\u00a0\u00a0\u00a0\u00a0\u00a0\u00a0\u00a0\u00a0\u00a0\u00a0\u00a0\u00a0\u00a0\u00a0\u00a0\u00a0\u00a0\u00a0\u00a0\u00a0\u00a0\u00a0\u00a0\u00a0\u00a0\u00a0\u00a0\u00a0\u00a0\u00a0\u00a0\u00a0\u00a0\u00a0\u00a0\u00a0\u00a0\u00a0\u00a0\u00a0\u00a0\u00a0\u00a0\u00a0\u00a0\u00a0\u00a0\u00a0\u00a0\u00a0\u00a0\u00a0\u00a0\u00a0\u00a0\u00a0\u00a0\u00a0\u00a0\u00a0\u00a0\u00a0\u00a0\u00a0\u00a0\u00a0\u00a0\u00a0\u00a0\u00a0\u00a0\u00a0\u00a0\u00a0\u00a0\u00a0\u00a0\u00a0\u00a0\u00a0\u00a0\u00a0\u00a0\u00a0\u00a0Lugar",
    "anchor": "start", "frame": "bounds",
    "font": "Liberation Sans", "fontSize": 12, "fontWeight": "normal", "color": "#ff0000",
    "offset": 30
  },
  "facet": {"row": {"field": "s", "type": "nominal", "header": {"labels": false, "title": null}}},
  "spacing": 0,
  "spec": {
    "width": 465,
    "height": 27,
    "layer": [
      {
        "transform": [{"filter": "datum.k === 'b'"}],
        "mark": {"type": "rect"},
        "encoding": {
          "x": {"field": "t", "type": "quantitative",
                "scale": {"domain": [0, 60], "nice": false, "zero": false},
                "axis": {"title": null, "values": [0,5,10,15,20,25,30,35,40,45,50,55,60],
                         "labelExpr": "datum.value % 10 === 0 ? ['16:59','17:09','17:19','17:29','17:39','17:49','17:59'][datum.value / 10] : ''",
                         "labelFontSize": {"condition": {"test": "datum.value % 30 === 0", "value": 12.5}, "value": 8.5},
                         "labelFont": "DejaVu Sans", "labelColor": "#000000",
                         "domainColor": "#000000", "tickColor": "#000000",
                         "domainWidth": 1.2, "tickWidth": 1.2,
                         "tickSize": -10, "labelPadding": 11, "grid": false, "offset": 22.5,
                         "labelOverlap": false, "labelFlush": false, "labelBound": false}},
          "x2": {"field": "t2"},
          "y": {"field": "lo", "type": "quantitative", "scale": {"domain": [-13.5, 13.5]}, "axis": null},
          "y2": {"field": "hi"},
          "color": {"condition": {"test": "datum.s === 'SUN4'", "value": "#ff0000"}, "value": "#0000ff"}
        }
      },
      {
        "transform": [{"filter": "datum.k === 'p'"}],
        "mark": {"type": "rule", "strokeWidth": 1.2},
        "encoding": {
          "x": {"field": "t", "type": "quantitative"},
          "y": {"field": "lo", "type": "quantitative"},
          "y2": {"field": "hi"},
          "color": {"value": "#0000ff"}
        }
      },
      {
        "transform": [{"filter": "datum.k === 'l'"}],
        "mark": {"type": "text", "align": "left", "baseline": "middle", "dx": -95, "font": "DejaVu Sans", "fontSize": 10, "color": "#000000"},
        "encoding": {
          "x": {"datum": 0, "type": "quantitative"},
          "y": {"datum": 0, "type": "quantitative"},
          "text": {"field": "lab"}
        }
      },
      {
        "transform": [{"filter": "datum.k === 'l'"}],
        "mark": {"type": "text", "align": "left", "baseline": "middle", "dx": 12, "font": "DejaVu Sans", "fontSize": 10.5, "color": "#000000"},
        "encoding": {
          "x": {"datum": 60, "type": "quantitative"},
          "y": {"datum": 0, "type": "quantitative"},
          "text": {"field": "lug"}
        }
      }
    ]
  }
}
]
}
